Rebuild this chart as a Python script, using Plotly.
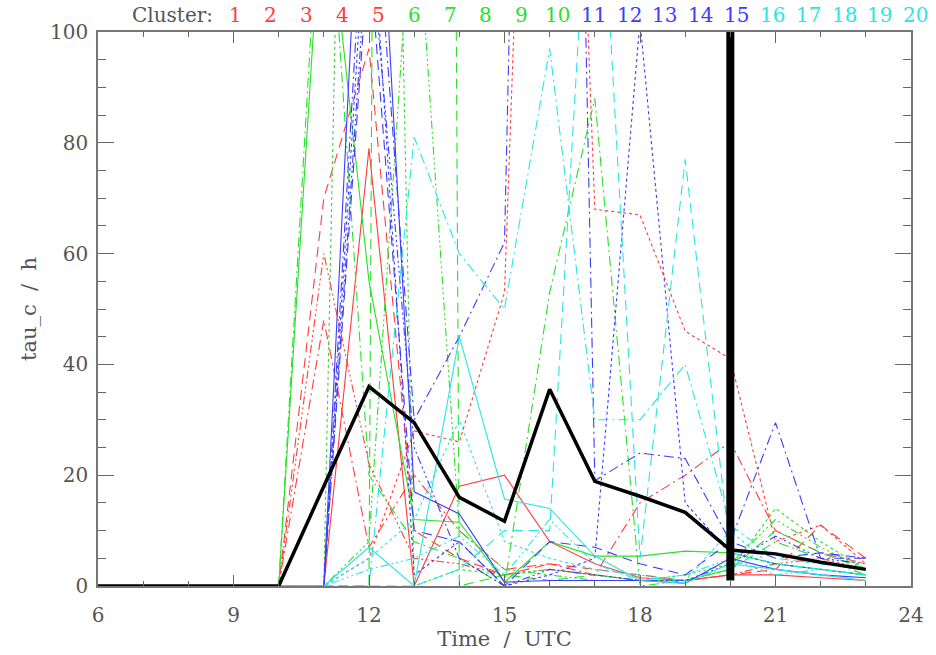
import plotly.graph_objects as go

# Hourly time axis (UTC)
hours = [6, 7, 8, 9, 10, 11, 12, 13, 14, 15, 16, 17, 18, 19, 20, 21, 22, 23]

# tau_c (h) per cluster, one value per hour
c01 = [0, 0, 0, 0, 0, 0, 79, 0, 18, 20, 8, 4, 1.5, 1, 2, 2, 1.5, 1]
c02 = [0, 0, 0, 0, 0, 0, 5, 28, 26, 53, 281, 68, 67, 46, 41, 8, 11, 4]
c03 = [0, 0, 0, 0, 0, 70, 97, 10, 5, 2, 4, 3, 2, 1, 2, 3, 11, 5]
c04 = [0, 0, 0, 0, 0, 48, 7, 20, 10, 3, 4, 2, 15, 20, 26, 10, 6, 4]
c05 = [0, 0, 0, 0, 0, 60, 22, 5, 4, 2, 3, 2, 1, 1, 2, 4, 5, 3]
c06 = [0, 0, 0, 0, 0, 130, 55, 12, 11.5, 0.7, 8, 5.4, 5.4, 6.3, 6, 4, 3, 2]
c07 = [0, 0, 0, 0, 0, 0, 400, 0, 3, 2, 3, 2, 1, 1, 3, 14, 8, 3]
c08 = [0, 0, 0, 0, 0, 0, 0, 1500, 0, 2, 1, 2, 1, 1, 3, 10, 6, 3]
c09 = [0, 0, 0, 0, 0, 140, 20, 8, 5, 0, 53, 88, 0, 1, 3, 8, 5, 2]
c10 = [0, 0, 0, 0, 0, 0, 8, 130, 10, 3, 2, 1, 1, 2, 4, 12, 7, 3]
c11 = [0, 0, 0, 0, 0, 0, 165, 17, 13, 0.7, 1, 1, 1, 0.5, 5, 3, 2, 1.5]
c12 = [0, 0, 0, 0, 0, 0, 130, 2, 8, 0, 2, 5, 102, 15, 6, 4, 3, 2]
c13 = [0, 0, 0, 0, 0, 0, 115, 10, 8, 0, 8, 7, 4, 2, 8, 5, 6, 5]
c14 = [0, 0, 0, 0, 0, 0, 140, 30, 45, 62, 424, 19, 24, 23, 8, 29.5, 5, 5]
c15 = [0, 0, 0, 0, 0, 0, 120, 25, 5, 0, 3, 2, 1, 1, 4, 9, 5, 4]
c16 = [0, 0, 0, 0, 0, 0, 7, 0, 45, 15.7, 14, 5.4, 1, 0.5, 4, 3, 2, 1]
c17 = [0, 0, 0, 0, 0, 0, 5, 12, 30, 8, 5, 3, 2, 1, 10, 3, 2, 1]
c18 = [0, 0, 0, 0, 0, 0, 0, 0, 3, 10, 10, 150, 5, 77, 6, 4, 3, 2]
c19 = [0, 0, 0, 0, 0, 0, 0, 81, 60, 50, 97, 30, 30, 40, 11, 5, 4, 3]
c20 = [0, 0, 0, 0, 0, 0, 3, 5, 9, 2, 12, 4, 1, 2, 5, 2, 3, 2]

clusters = [c01, c02, c03, c04, c05, c06, c07, c08, c09, c10,
            c11, c12, c13, c14, c15, c16, c17, c18, c19, c20]
cluster_names = [str(i) for i in range(1, 21)]

# Mean over all clusters
mean_tau = [0, 0, 0, 0, 0, 18, 36, 29.5, 16, 11.7, 35.5, 18.9, 16.2, 13.3, 6.5, 5.8, 4.3, 3]

# Marker for the selected time
marker_time = [20, 20]
marker_range = [1, 100]

x_ticks = [6, 9, 12, 15, 18, 21, 24]
y_ticks = [0, 20, 40, 60, 80, 100]

group_colors = ["rgb(255,60,60)", "rgb(40,225,40)", "rgb(60,60,255)", "rgb(40,230,230)"]
styles = ["solid", "dot", "10px,6px", "10px,4px,2px,4px",
          "8px,3px,2px,3px,2px,3px,2px,3px"]

FONT = "DejaVu Serif"
GREY = "#555555"

fig = go.Figure()

for i, vals in enumerate(clusters):
    fig.add_trace(go.Scatter(
        x=hours, y=vals, mode="lines", name=cluster_names[i],
        line=dict(color=group_colors[i // 5], width=1.1, dash=styles[i % 5]),
        showlegend=False, hoverinfo="skip"))

fig.add_trace(go.Scatter(
    x=hours, y=mean_tau, mode="lines", name="mean",
    line=dict(color="black", width=3.5), showlegend=False))

fig.add_trace(go.Scatter(
    x=marker_time, y=marker_range, mode="lines", name="marker",
    line=dict(color="black", width=8), showlegend=False))

# Cluster key along the top edge
plot_left, plot_width = 98, 824
key_start, key_step = 237, 36.3
annotations = [dict(
    text="Cluster:", xref="paper", yref="paper",
    x=(217 - plot_left) / plot_width, y=1.0, xanchor="right", yanchor="bottom",
    yshift=3, showarrow=False, font=dict(family=FONT, size=20, color=GREY))]
for i, name in enumerate(cluster_names):
    annotations.append(dict(
        text=name, xref="paper", yref="paper",
        x=(key_start + key_step * i - plot_left) / plot_width, y=1.0,
        xanchor="center", yanchor="bottom", yshift=3, showarrow=False,
        font=dict(family=FONT, size=20, color=group_colors[i // 5])))

axis_common = dict(
    showline=True, linecolor="#777777", linewidth=1.5, mirror="ticks",
    ticks="inside", tickcolor="#666666", tickwidth=1,
    showgrid=False, zeroline=False,
    tickfont=dict(family=FONT, size=20, color=GREY))

fig.update_layout(
    width=936, height=655,
    margin=dict(l=98, r=14, t=32, b=68),
    paper_bgcolor="white", plot_bgcolor="white",
    annotations=annotations,
    xaxis=dict(range=[6, 24], tickvals=x_ticks, ticklen=11, ticklabelstandoff=10,
               minor=dict(dtick=1, ticklen=5, ticks="inside", tickcolor="#666666"),
               title=dict(text="Time  /  UTC", font=dict(family=FONT, size=21, color=GREY),
                          standoff=2),
               **axis_common),
    yaxis=dict(range=[0, 100], tickvals=y_ticks, ticklen=16, ticklabelstandoff=4,
               minor=dict(dtick=5, ticklen=8, ticks="inside", tickcolor="#666666"),
               title=dict(text="tau_c  /  h", font=dict(family=FONT, size=21, color=GREY),
                          standoff=8),
               **axis_common),
)

fig.write_html("out.html")
